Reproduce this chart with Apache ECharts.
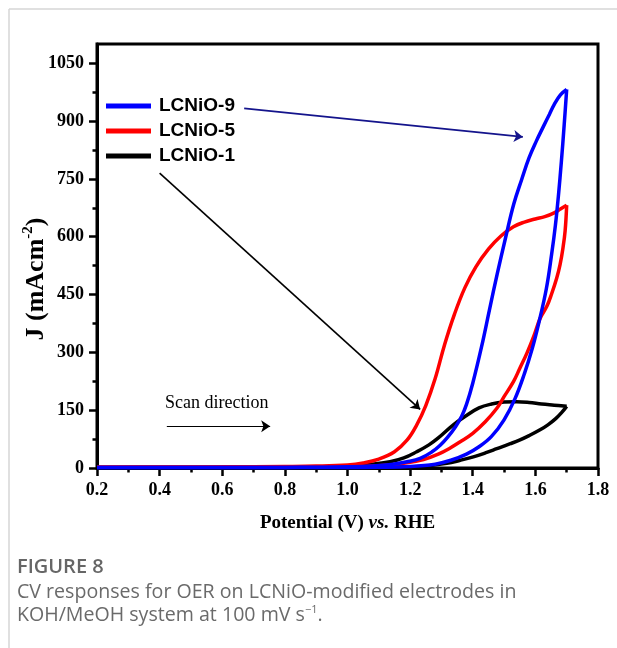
<!DOCTYPE html>
<html>
<head>
<meta charset="utf-8">
<script src="https://cdn.jsdelivr.net/npm/echarts@6/dist/echarts.min.js"></script>
<style>
  html, body { margin: 0; padding: 0; background: #fff; }
  #chart { width: 617px; height: 648px; }
</style>
</head>
<body>
<div id="chart"></div>
<script>
// Cyclic voltammograms (potential in V vs. RHE, current density in mA cm^-2)
const sampleNames = ['LCNiO-9', 'LCNiO-5', 'LCNiO-1'];

// LCNiO-9: anodic sweep, then cathodic sweep
const lcnio9FwdV = [0.20, 0.40, 0.60, 0.80, 0.90, 1.00, 1.08, 1.14, 1.19, 1.232, 1.27, 1.296, 1.32, 1.345, 1.365, 1.38, 1.40, 1.428, 1.453, 1.478, 1.505, 1.531, 1.556, 1.58, 1.603, 1.625, 1.645, 1.66, 1.68, 1.70];
const lcnio9FwdJ = [1, 1, 1, 1.5, 2, 3, 5, 9, 16, 25, 42, 59, 80, 107, 135, 165, 220, 314, 409, 503, 598, 685, 748, 805, 848, 885, 918, 943, 968, 982];
const lcnio9RevV = [1.70, 1.692, 1.683, 1.674, 1.664, 1.652, 1.635, 1.612, 1.59, 1.565, 1.535, 1.50, 1.46, 1.42, 1.38, 1.33, 1.28, 1.20, 1.10, 1.00, 0.80, 0.60, 0.40, 0.20];
const lcnio9RevJ = [982, 890, 795, 710, 630, 555, 465, 380, 310, 245, 180, 125, 82, 55, 36, 20, 10, 4, 2, 1.5, 1, 1, 1, 1];

// LCNiO-5
const lcnio5FwdV = [0.20, 0.40, 0.60, 0.80, 0.90, 1.00, 1.05, 1.10, 1.15, 1.19, 1.22, 1.25, 1.28, 1.31, 1.342, 1.375, 1.41, 1.45, 1.49, 1.53, 1.565, 1.60, 1.63, 1.66, 1.68, 1.70];
const lcnio5FwdJ = [2, 2.5, 3, 4, 5, 8, 13, 23, 42, 72, 110, 162, 232, 320, 400, 468, 522, 568, 602, 626, 638, 646, 652, 662, 672, 682];
const lcnio5RevV = [1.70, 1.695, 1.688, 1.679, 1.668, 1.652, 1.637, 1.615, 1.595, 1.573, 1.55, 1.53, 1.50, 1.477, 1.44, 1.40, 1.36, 1.328, 1.29, 1.243, 1.18, 1.10, 1.00, 0.80, 0.60, 0.40, 0.20];
const lcnio5RevJ = [682, 615, 570, 528, 492, 452, 420, 388, 342, 298, 258, 224, 185, 155, 120, 90, 68, 52, 36, 22, 12, 6, 4, 3, 2.5, 2, 2];

// LCNiO-1
const lcnio1FwdV = [0.20, 0.40, 0.60, 0.80, 0.90, 1.00, 1.07, 1.136, 1.18, 1.221, 1.26, 1.29, 1.338, 1.38, 1.42, 1.46, 1.50, 1.54, 1.58, 1.62, 1.66, 1.70];
const lcnio1FwdJ = [1, 1, 1.5, 2, 3, 5, 9, 16, 26, 42, 60, 78, 112, 136, 156, 166, 171, 172, 170, 166, 163, 160];
const lcnio1RevV = [1.70, 1.685, 1.665, 1.64, 1.615, 1.58, 1.551, 1.52, 1.477, 1.44, 1.402, 1.36, 1.317, 1.26, 1.189, 1.10, 1.00, 0.80, 0.60, 0.40, 0.20];
const lcnio1RevJ = [160, 145, 128, 112, 99, 84, 73, 63, 50, 39, 29, 20, 12, 6, 3, 2, 1.5, 1, 1, 1, 1];

// Axis ticks
const yTickValues = [0, 150, 300, 450, 600, 750, 900, 1050];
const yMinorTickValues = [75, 225, 375, 525, 675, 825, 975];

const SERIF = '"Times New Roman", "Liberation Serif", serif';
const SANS = 'Arial, "Liberation Sans", sans-serif';
const CAPTION = '"Open Sans", sans-serif';

function pairs(v, j) { return v.map((x, i) => [x, j[i]]); }

function loopSeries(name, color, fv, fj, rv, rj) {
  const base = {
    type: 'line', name: name, symbol: 'none', showSymbol: false,
    smooth: 0.4, clip: false,
    lineStyle: { color: color, width: 3.5 },
    itemStyle: { color: color },
    emphasis: { disabled: true }
  };
  return [
    Object.assign({}, base, { data: pairs(fv, fj) }),
    Object.assign({}, base, { data: pairs(rv, rj) })
  ];
}

const chart = echarts.init(document.getElementById('chart'), null, { renderer: 'canvas' });

const option = {
  animation: false,
  backgroundColor: '#fff',
  grid: {
    left: 97, right: 19, top: 44, bottom: 180,
    show: true, borderColor: '#000', borderWidth: 3,
    containLabel: false, outerBoundsMode: 'none'
  },
  legend: {
    data: sampleNames,
    orient: 'vertical',
    left: 106, top: 96, padding: 0,
    icon: 'rect', itemWidth: 45, itemHeight: 5, itemGap: 5,
    selectedMode: false,
    textStyle: {
      fontFamily: SANS, fontWeight: 'bold', fontSize: 19, color: '#000',
      lineHeight: 20, padding: [0, 0, 0, 3]
    }
  },
  xAxis: {
    type: 'value', min: 0.2, max: 1.8, interval: 0.2,
    axisLine: { show: true, onZero: false, lineStyle: { color: '#000', width: 3 } },
    axisTick: { show: true, inside: false, length: 8, lineStyle: { color: '#000', width: 2.5 } },
    minorTick: { show: true, splitNumber: 2, length: 4.5, lineStyle: { color: '#000', width: 2.5 } },
    splitLine: { show: false },
    minorSplitLine: { show: false },
    axisLabel: {
      margin: 13, color: '#000', fontFamily: SERIF, fontWeight: 'bold', fontSize: 18,
      formatter: v => v.toFixed(1)
    }
  },
  yAxis: [
    {
      type: 'value', min: 0, max: 1100, position: 'left',
      axisLine: { show: true, onZero: false, lineStyle: { color: '#000', width: 3 } },
      axisTick: { show: true, inside: false, length: 8, customValues: yTickValues, lineStyle: { color: '#000', width: 2.5 } },
      splitLine: { show: false },
      axisLabel: {
        margin: 13, color: '#000', fontFamily: SERIF, fontWeight: 'bold', fontSize: 18,
        customValues: yTickValues,
        formatter: v => String(Math.round(v))
      }
    },
    {
      type: 'value', min: 0, max: 1100, position: 'left',
      axisLine: { show: false },
      axisTick: { show: true, inside: false, length: 4.5, customValues: yMinorTickValues, lineStyle: { color: '#000', width: 2.5 } },
      splitLine: { show: false },
      axisLabel: { show: false }
    }
  ],
  series: [].concat(
    loopSeries('LCNiO-1', '#000000', lcnio1FwdV, lcnio1FwdJ, lcnio1RevV, lcnio1RevJ),
    loopSeries('LCNiO-5', '#ff0000', lcnio5FwdV, lcnio5FwdJ, lcnio5RevV, lcnio5RevJ),
    loopSeries('LCNiO-9', '#0000ff', lcnio9FwdV, lcnio9FwdJ, lcnio9RevV, lcnio9RevJ),
    [{
      type: 'line', name: 'arrows', data: [],
      markLine: {
        silent: true, animation: false,
        symbol: ['none', 'arrow'], symbolSize: 9,
        label: { show: false },
        emphasis: { disabled: true },
        data: [
          [{ coord: [0.67, 933], lineStyle: { color: '#14148c', width: 1.8, type: 'solid' } }, { coord: [1.56, 859] }],
          [{ coord: [0.40, 765], lineStyle: { color: '#000', width: 1.6, type: 'solid' } }, { coord: [1.232, 152] }],
          [{ coord: [0.423, 108.6], lineStyle: { color: '#000', width: 1.2, type: 'solid' } }, { coord: [0.753, 108.6] }]
        ]
      }
    }]
  ),
  graphic: [
    // panel outline
    { type: 'line', shape: { x1: 9, y1: 9, x2: 617, y2: 9 }, style: { stroke: '#d6d6d6', lineWidth: 1.5 }, silent: true },
    { type: 'line', shape: { x1: 9, y1: 9, x2: 9, y2: 648 }, style: { stroke: '#d6d6d6', lineWidth: 1.5 }, silent: true },
    // axis titles
    {
      type: 'text', x: 347.5, y: 523, silent: true,
      style: {
        text: '{b|Potential (V) }{i|vs.}{b| RHE}',
        align: 'center', verticalAlign: 'middle',
        rich: {
          b: { fontFamily: SERIF, fontWeight: 'bold', fontSize: 19, fill: '#000' },
          i: { fontFamily: SERIF, fontWeight: 'bold', fontStyle: 'italic', fontSize: 19, fill: '#000' }
        }
      }
    },
    {
      type: 'text', x: 36, y: 279, rotation: Math.PI / 2, silent: true,
      style: {
        text: '{b|J (mAcm}{s|-2}{b|)}',
        align: 'center', verticalAlign: 'middle',
        rich: {
          b: { fontFamily: SERIF, fontWeight: 'bold', fontSize: 26, lineHeight: 30, fill: '#000' },
          s: { fontFamily: SERIF, fontWeight: 'bold', fontSize: 15, lineHeight: 15, verticalAlign: 'top', fill: '#000' }
        }
      }
    },
    // caption
    {
      type: 'text', x: 17, y: 567, silent: true,
      style: { text: 'FIGURE 8', font: '600 20px "Open Sans", sans-serif', fill: '#666', verticalAlign: 'middle' }
    },
    {
      type: 'text', x: 17, y: 592, silent: true,
      style: { text: 'CV responses for OER on LCNiO-modified electrodes in', font: '19.6px "Open Sans", sans-serif', fill: '#6a6a6a', verticalAlign: 'middle' }
    },
    {
      type: 'text', x: 17, y: 615, silent: true,
      style: {
        text: '{n|KOH/MeOH system at 100 mV s}{s|\u22121}{n|.}',
        verticalAlign: 'middle',
        rich: {
          n: { fontFamily: CAPTION, fontSize: 19.6, lineHeight: 22, fill: '#6a6a6a' },
          s: { fontFamily: CAPTION, fontSize: 11, lineHeight: 11, verticalAlign: 'top', fill: '#6a6a6a' }
        }
      }
    }
  ]
};

chart.setOption(option);

// "Scan direction" label placed in data space above its arrow
const scanLabelPos = chart.convertToPixel({ gridIndex: 0 }, [0.417, 168]);
chart.setOption({
  graphic: option.graphic.concat([{
    type: 'text', x: scanLabelPos[0], y: scanLabelPos[1], silent: true,
    style: { text: 'Scan direction', fontFamily: SERIF, fontSize: 18, fill: '#000', verticalAlign: 'middle' }
  }])
});
</script>
</body>
</html>
